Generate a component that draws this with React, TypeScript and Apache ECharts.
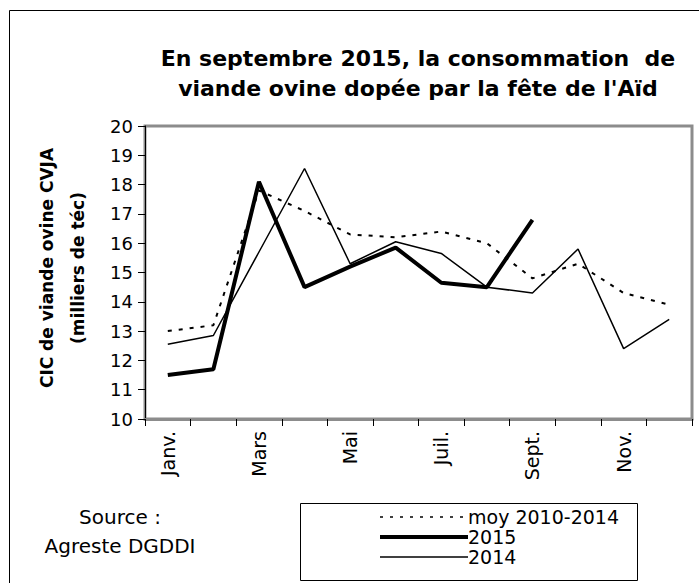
import React, { useEffect, useRef } from "react";
import * as echarts from "echarts";

const months = ["Janv.", "Févr.", "Mars", "Avr.", "Mai", "Juin", "Juil.", "Août", "Sept.", "Oct.", "Nov.", "Déc."];
const moy20102014 = [13.0, 13.2, 17.8, 17.1, 16.3, 16.2, 16.4, 16.0, 14.8, 15.3, 14.3, 13.9];
const y2015 = [11.5, 11.7, 18.1, 14.5, 15.2, 15.85, 14.65, 14.5, 16.8];
const y2014 = [12.55, 12.85, 15.7, 18.55, 15.3, 16.05, 15.65, 14.5, 14.3, 15.8, 12.4, 13.4];
const yTicks = { min: 10, max: 20, interval: 1 };

const titleLines = ["En septembre 2015, la consommation  de", "viande ovine dopée par la fête de l'Aïd"];
const yTitleLines = ["CIC de viande ovine CVJA", "(milliers de téc)"];
const sourceLines = ["Source :", "Agreste DGDDI"];

const FONT = "DejaVu Sans";

export default function App() {
  const ref = useRef<HTMLDivElement>(null);
  useEffect(() => {
    const chart = echarts.init(ref.current!, null, { renderer: "svg" });
    chart.setOption({
      animation: false,
      backgroundColor: "#ffffff",
      title: {
        text: titleLines.join("\n"),
        left: 413,
        top: 38,
        textAlign: "center",
        textStyle: { fontFamily: FONT, fontWeight: "bold", fontSize: 22, lineHeight: 30, color: "#000" },
      },
      grid: { left: 145, right: 7, top: 126, bottom: 164, show: true, borderColor: "#8c8c8c", borderWidth: 3, backgroundColor: "transparent" },
      xAxis: {
        type: "category",
        data: months,
        boundaryGap: true,
        axisLine: { lineStyle: { color: "#8c8c8c", width: 3 } },
        axisTick: { show: true, interval: 0, length: 7, lineStyle: { color: "#000", width: 1 } },
        axisLabel: { interval: 1, rotate: 90, margin: 12, fontFamily: FONT, fontSize: 19, color: "#000" },
        splitLine: { show: false },
      },
      yAxis: {
        type: "value",
        min: yTicks.min,
        max: yTicks.max,
        interval: yTicks.interval,
        axisLine: { show: true, lineStyle: { color: "#000", width: 1 } },
        axisTick: { show: true, length: 7, lineStyle: { color: "#000" } },
        axisLabel: { margin: 12, fontFamily: FONT, fontSize: 18, color: "#000" },
        splitLine: { show: false },
      },
      legend: {
        orient: "vertical",
        left: 373,
        top: 502,
        itemWidth: 88,
        itemHeight: 14,
        itemGap: 0,
        data: [
          { name: "moy 2010-2014", lineStyle: { width: 1.5, type: [3, 7] } },
          { name: "2015", lineStyle: { width: 4 } },
          { name: "2014", lineStyle: { width: 1.5 } },
        ],
        itemStyle: { opacity: 0 },
        textStyle: { fontFamily: FONT, fontSize: 19, color: "#000", padding: [0, 0, 0, -5], lineHeight: 20 },
      },
      series: [
        { name: "moy 2010-2014", type: "line", data: moy20102014, symbol: "none", lineStyle: { color: "#000", width: 2, type: [4, 7] }, itemStyle: { color: "#000" } },
        { name: "2015", type: "line", data: y2015, symbol: "none", lineStyle: { color: "#000", width: 4 }, itemStyle: { color: "#000" } },
        { name: "2014", type: "line", data: y2014, symbol: "none", lineStyle: { color: "#000", width: 1.5 }, itemStyle: { color: "#000" } },
      ],
      graphic: [
        { type: "rect", shape: { x: 9.5, y: 10.5, width: 720, height: 620 }, style: { fill: "none", stroke: "#000", lineWidth: 1 }, silent: true },
        { type: "rect", shape: { x: 300.5, y: 503.5, width: 337, height: 77 }, style: { fill: "none", stroke: "#000", lineWidth: 1 }, silent: true },
        {
          type: "text",
          x: 62,
          y: 268,
          rotation: Math.PI / 2,
          style: { text: yTitleLines.join("\n"), fontFamily: FONT, fontWeight: "bold", fontSize: 17, lineHeight: 31, align: "center", verticalAlign: "middle", fill: "#000" },
        },
        {
          type: "text",
          x: 120,
          y: 531,
          style: { text: sourceLines.join("\n"), fontFamily: FONT, fontSize: 20, lineHeight: 29, align: "center", verticalAlign: "middle", fill: "#000" },
        },
      ],
    });
    return () => chart.dispose();
  }, []);
  return <div ref={ref} style={{ width: 699, height: 583, position: "absolute", left: 0, top: 0 }} />;
}
